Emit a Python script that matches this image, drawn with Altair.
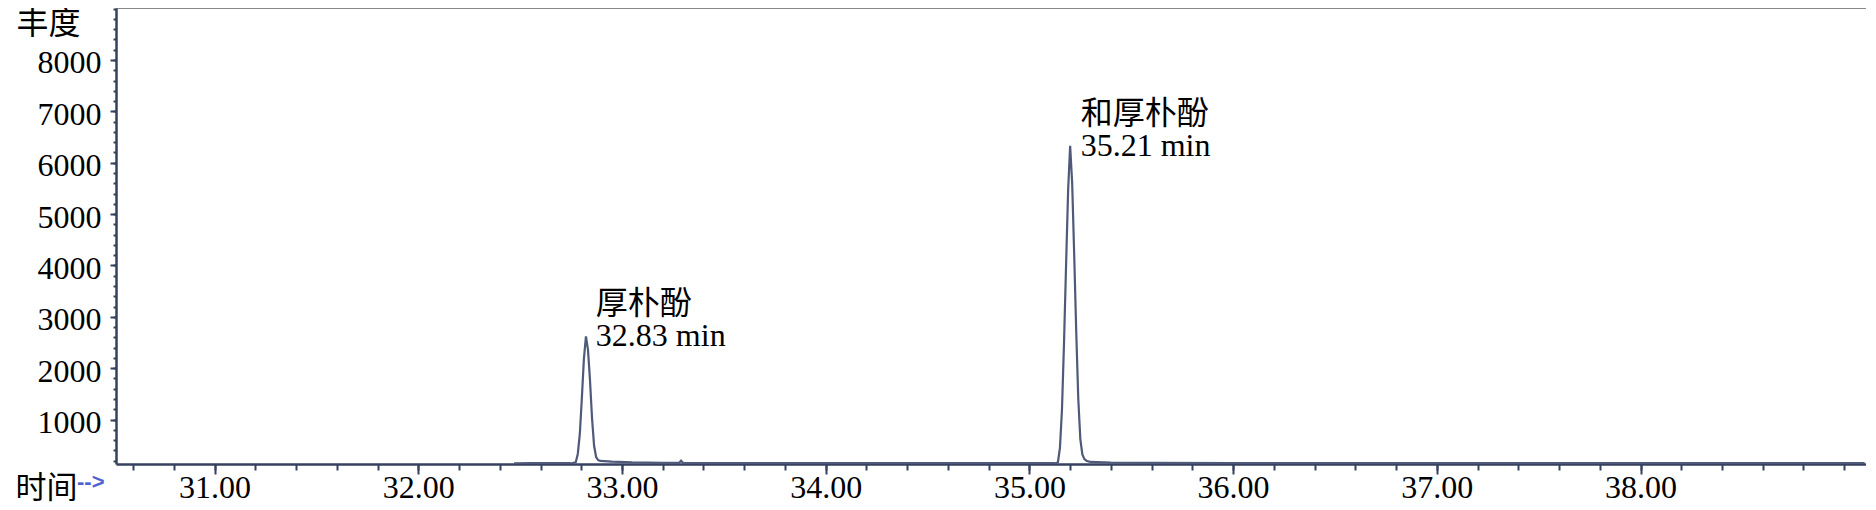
import altair as alt
import pandas as pd

# ---- chromatogram trace (time in min, abundance) ----
times = [
    32.47, 32.55, 32.65, 32.743,
    32.753, 32.763, 32.773, 32.783, 32.793, 32.803, 32.813, 32.823, 32.833,
    32.843, 32.853, 32.863, 32.873, 32.883, 32.893,
    32.95, 33.05, 33.20, 33.28, 33.29, 33.30, 33.40, 33.70, 34.00, 34.50,
    35.00, 35.12,
    35.13, 35.14, 35.15, 35.16, 35.17, 35.18, 35.19, 35.20, 35.21, 35.22,
    35.23, 35.24, 35.25, 35.26, 35.27, 35.28, 35.29, 35.30,
    35.40, 35.60, 36.00, 36.50, 37.00, 37.50, 38.00, 38.50, 39.10,
]
abundance = [
    150, 152, 152, 152,
    150, 160, 170, 330, 720, 1420, 2180, 2620, 2360,
    1760, 1020, 490, 270, 210, 195,
    180, 165, 158, 156, 200, 156, 154, 152, 152, 152,
    152, 152,
    150, 170, 450, 1200, 2500, 4000, 5450, 6330, 5600, 4200,
    2700, 1400, 620, 320, 230, 200, 185, 175,
    160, 155, 152, 152, 152, 152, 152, 152, 152,
]

# ---- peak annotations ----
peak_names = ["厚朴酚", "和厚朴酚"]
peak_rt = [32.83, 35.21]
peak_height = [2620, 6330]
peak_text = ["32.83 min", "35.21 min"]

# ---- axes ----
x_major = [31, 32, 33, 34, 35, 36, 37, 38]
x_minor = [round(30.6 + 0.2 * i, 1) for i in range(43)]
y_major = [1000, 2000, 3000, 4000, 5000, 6000, 7000, 8000]
y_minor = [200 * i for i in range(1, 46)]
x_domain = [30.516, 39.107]
y_domain = [135, 9012]

AXIS = "#36405f"
LINE = "#4f5a7a"
SERIF = "Liberation Serif"
CJK = "Noto Sans CJK SC"

trace = pd.DataFrame({"t": times, "a": abundance})
peaks = pd.DataFrame({"name": peak_names, "rt": peak_rt, "h": peak_height, "txt": peak_text})

xs = alt.Scale(domain=x_domain, nice=False, zero=False)
ys = alt.Scale(domain=y_domain, nice=False, zero=False)

base = alt.Chart(trace)

line = base.mark_line(color=LINE, strokeWidth=2.2, clip=True, interpolate="linear").encode(
    x=alt.X("t:Q", scale=xs, title="时间",
            axis=alt.Axis(values=x_major, format=".2f", orient="bottom", tickSize=10,
                          labelPadding=-1.5, labelFontSize=32, labelFont=SERIF, labelColor="black",
                          domainColor=AXIS, domainWidth=2.5, tickColor=AXIS, tickWidth=2,
                          grid=False, titleFont=CJK, titleFontSize=31, titleFontWeight="normal",
                          titleColor="black", titleAlign="left", titleBaseline="alphabetic",
                          titleX=-101, titleY=33, labelFlush=False)),
    y=alt.Y("a:Q", scale=ys, title="丰度",
            axis=alt.Axis(values=y_major, format="d", orient="left", tickSize=6,
                          labelPadding=9, labelFontSize=32, labelFont=SERIF, labelColor="black",
                          labelOffset=3,
                          domainColor=AXIS, domainWidth=2.5, tickColor=AXIS, tickWidth=2,
                          grid=False, titleFont=CJK, titleFontSize=32, titleFontWeight="normal",
                          titleColor="black", titleAngle=0, titleAlign="left", titleBaseline="top",
                          titleX=-100, titleY=0, labelFlush=False)),
)

minor = base.mark_line(opacity=0).encode(
    x=alt.X("t:Q", scale=xs, title=None,
            axis=alt.Axis(values=x_minor, orient="bottom", tickSize=6, labels=False,
                          domain=False, tickColor=AXIS, tickWidth=2, grid=False)),
    y=alt.Y("a:Q", scale=ys, title=None,
            axis=alt.Axis(values=y_minor, orient="left", tickSize=3, labels=False,
                          domain=False, tickColor=AXIS, tickWidth=2, grid=False)),
)

names = alt.Chart(peaks).mark_text(align="left", baseline="alphabetic", font=CJK,
                                   fontSize=32, color="black", dx=8.5, dy=-22).encode(
    x=alt.X("rt:Q", scale=xs), y=alt.Y("h:Q", scale=ys), text="name:N")

rts = alt.Chart(peaks).mark_text(align="left", baseline="alphabetic", font=SERIF,
                                 fontSize=32, color="black", dx=8.5, dy=10).encode(
    x=alt.X("rt:Q", scale=xs), y=alt.Y("h:Q", scale=ys), text="txt:N")

arrow = alt.Chart(pd.DataFrame({"s": ["-->"]})).mark_text(
    align="left", baseline="middle", font="Liberation Sans", fontSize=22, fontWeight="bold",
    color="#4f63d0").encode(text="s:N", x=alt.value(-39), y=alt.value(474))

chart = alt.layer(line, minor, names, rts, arrow).resolve_axis(
    x="independent", y="independent"
).properties(
    width=1750, height=456,
    autosize=alt.AutoSizeParams(type="none"),
    padding={"left": 108, "top": 0, "right": 0, "bottom": 40},
).configure_view(stroke=None)

chart.save("out.html", embed_options={"renderer": "svg", "actions": False})
